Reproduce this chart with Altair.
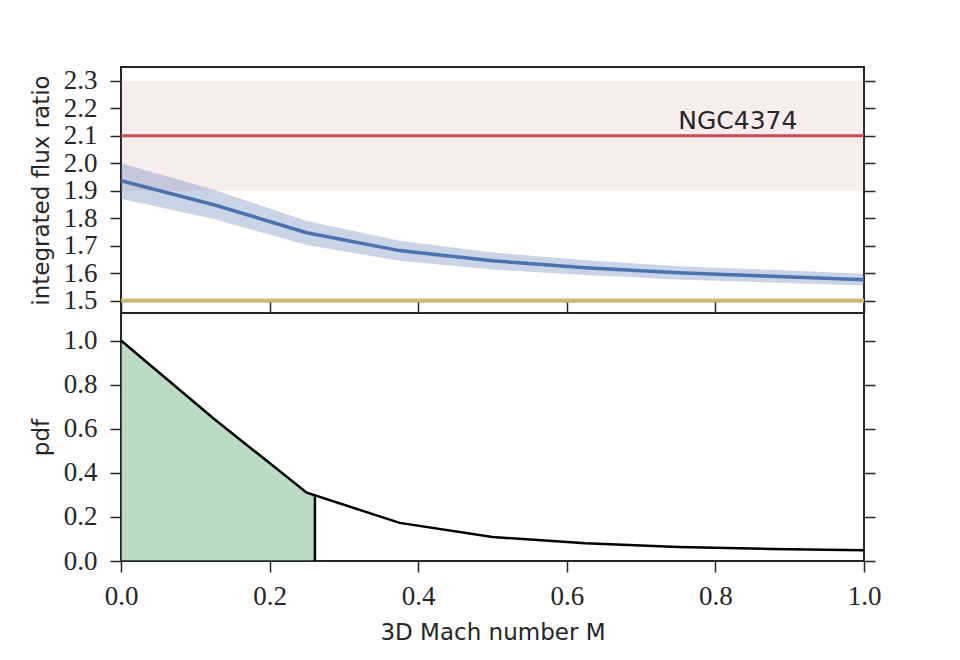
import altair as alt
import pandas as pd

# ---- data ----
mach = [0.0, 0.125, 0.25, 0.375, 0.5, 0.625, 0.75, 0.875, 1.0]
ratio = [1.936, 1.849, 1.747, 1.682, 1.645, 1.620, 1.601, 1.589, 1.576]
ratio_lo = [1.871, 1.797, 1.702, 1.645, 1.613, 1.593, 1.577, 1.566, 1.555]
ratio_hi = [2.000, 1.903, 1.790, 1.718, 1.675, 1.647, 1.625, 1.612, 1.598]
pdf = [1.0, 0.645, 0.31, 0.173, 0.109, 0.080, 0.063, 0.055, 0.049]

mach_fill = [0.0, 0.125, 0.25, 0.261]
pdf_fill = [1.0, 0.645, 0.31, 0.297]
mach_cut = [0.261]
pdf_cut = [0.297]

obs_name = ["NGC4374"]
obs_value = [2.1]
obs_lo = [1.9]
obs_hi = [2.3]
base_value = [1.5]
base_lo = [1.495]
base_hi = [1.509]
x_range_lo = [0.0]
x_range_hi = [1.0]

y_top_ticks = [1.5, 1.6, 1.7, 1.8, 1.9, 2.0, 2.1, 2.2, 2.3]
y_bot_ticks = [0.0, 0.2, 0.4, 0.6, 0.8, 1.0]
x_ticks = [0.0, 0.2, 0.4, 0.6, 0.8, 1.0]

# ---- tables ----
curve = pd.DataFrame({"M": mach, "ratio": ratio, "lo": ratio_lo, "hi": ratio_hi, "pdf": pdf})
fill = pd.DataFrame({"M": mach_fill, "pdf": pdf_fill})
cut = pd.DataFrame({"M": mach_cut, "pdf": pdf_cut, "zero": [0.0]})
obs = pd.DataFrame({"x": x_range_lo, "x2": x_range_hi, "v": obs_value, "lo": obs_lo, "hi": obs_hi,
                    "name": obs_name, "tx": [0.75], "ty": [2.125]})
base = pd.DataFrame({"x": x_range_lo, "x2": x_range_hi, "v": base_value, "lo": base_lo, "hi": base_hi})

W, H_TOP, H_BOT = 743, 246, 248
XDOM = [0.0, 1.0]
YTOP = [1.455, 2.35]
YBOT = [0.0, 1.125]

RED, BLUE, YEL, GREEN = "#c44e52", "#4c72b0", "#ccb974", "#55a868"
INK = "#262626"
SERIF = "Liberation Serif"
SANS = "DejaVu Sans"
LBL = 27

def xs(field, axis=None):
    return alt.X(field, type="quantitative", scale=alt.Scale(domain=XDOM, nice=False, zero=False),
                 axis=axis, title="3D Mach number M")

left_top_axis = alt.Axis(values=y_top_ticks, format=".1f", orient="left", tickSize=11,
                         labelPadding=13, labelFont=SERIF, labelFontSize=LBL, labelColor=INK,
                         titleFont=SANS, titleFontSize=23, titleFontWeight="normal", titleColor=INK,
                         titleX=-68, titleY=H_TOP / 2, titleBaseline="bottom", domain=False)

def yt(field):
    return alt.Y(field, type="quantitative", scale=alt.Scale(domain=YTOP, nice=False, zero=False),
                 axis=left_top_axis, title="integrated flux ratio")

left_bot_axis = alt.Axis(values=y_bot_ticks, format=".1f", orient="left", tickSize=11,
                         labelPadding=13, labelFont=SERIF, labelFontSize=LBL, labelColor=INK,
                         titleFont=SANS, titleFontSize=23, titleFontWeight="normal", titleColor=INK,
                         titleX=-68, titleY=H_BOT / 2, titleBaseline="bottom", domain=False)

def yb(field):
    return alt.Y(field, type="quantitative", scale=alt.Scale(domain=YBOT, nice=False, zero=False),
                 axis=left_bot_axis, title="pdf")

bottom_axis = alt.Axis(values=x_ticks, format=".1f", orient="bottom", tickSize=11, labelPadding=11,
                       labelFont=SERIF, labelFontSize=LBL, labelColor=INK, labelFlush=False,
                       titleFont=SANS, titleFontSize=23, titleFontWeight="normal", titleColor=INK,
                       titleX=W / 2, titleY=78, titleBaseline="alphabetic", domain=False)

# ---- top panel ----
band = alt.Chart(obs).mark_rect(color=RED, opacity=0.11).encode(
    x=xs("x"), x2="x2", y=yt("lo"), y2="hi")
obs_line = alt.Chart(obs).mark_rule(color=RED, strokeWidth=3).encode(
    x=xs("x"), x2="x2", y=yt("v"))
base_band = alt.Chart(base).mark_rect(color=YEL, opacity=0.35).encode(
    x=xs("x"), x2="x2", y=yt("lo"), y2="hi")
base_line = alt.Chart(base).mark_rule(color=YEL, strokeWidth=4).encode(
    x=xs("x"), x2="x2", y=yt("v"))
err = alt.Chart(curve).mark_area(color=BLUE, opacity=0.3).encode(
    x=xs("M"), y=yt("lo"), y2="hi")
line = alt.Chart(curve).mark_line(color=BLUE, strokeWidth=3.5).encode(
    x=xs("M"), y=yt("ratio"))
label = alt.Chart(obs).mark_text(font=SANS, fontSize=25, color=INK, align="left",
                                 baseline="alphabetic").encode(
    x=xs("tx"), y=yt("ty"), text="name:N")

top_main = alt.layer(band, obs_line, base_band, base_line, err, line, label)
top_dummy = alt.Chart(curve).mark_point(opacity=0).encode(
    x=alt.X("M", type="quantitative", scale=alt.Scale(domain=XDOM, nice=False, zero=False), axis=None),
    y=alt.Y("ratio", type="quantitative", scale=alt.Scale(domain=YTOP, nice=False, zero=False),
            axis=alt.Axis(values=y_top_ticks, orient="right", labels=False, tickSize=11, title=None,
                          domain=False)))
top = alt.layer(top_main, top_dummy).resolve_scale(x="independent", y="independent").properties(
    width=W, height=H_TOP)

# ---- bottom panel ----
area = alt.Chart(fill).mark_area(color=GREEN, opacity=0.4).encode(
    x=xs("M", bottom_axis), y=yb("pdf"))
pdf_line = alt.Chart(curve).mark_line(color="black", strokeWidth=2.5).encode(
    x=xs("M", bottom_axis), y=yb("pdf"))
cut_rule = alt.Chart(cut).mark_rule(color="black", strokeWidth=2.5).encode(
    x=xs("M", bottom_axis), y=yb("zero"), y2="pdf")
bot_main = alt.layer(area, pdf_line, cut_rule)
bot_dummy = alt.Chart(curve).mark_point(opacity=0).encode(
    x=alt.X("M", type="quantitative", scale=alt.Scale(domain=XDOM, nice=False, zero=False),
            axis=alt.Axis(values=x_ticks, orient="top", labels=False, tickSize=11, title=None, domain=False)),
    y=alt.Y("pdf", type="quantitative", scale=alt.Scale(domain=YBOT, nice=False, zero=False),
            axis=alt.Axis(values=y_bot_ticks, orient="right", labels=False, tickSize=11, title=None,
                          domain=False)))
bottom = alt.layer(bot_main, bot_dummy).resolve_scale(x="independent", y="independent").properties(
    width=W, height=H_BOT)

chart = alt.vconcat(top, bottom, spacing=0, bounds="flush").properties(
    padding={"left": 28, "top": 65, "right": 0, "bottom": 0},
    background="white",
).configure_view(
    stroke=INK, strokeWidth=2
).configure_axis(
    tickColor=INK, tickWidth=1.5, grid=False
)

chart.save("out.html", embed_options={"renderer": "svg", "actions": False})
